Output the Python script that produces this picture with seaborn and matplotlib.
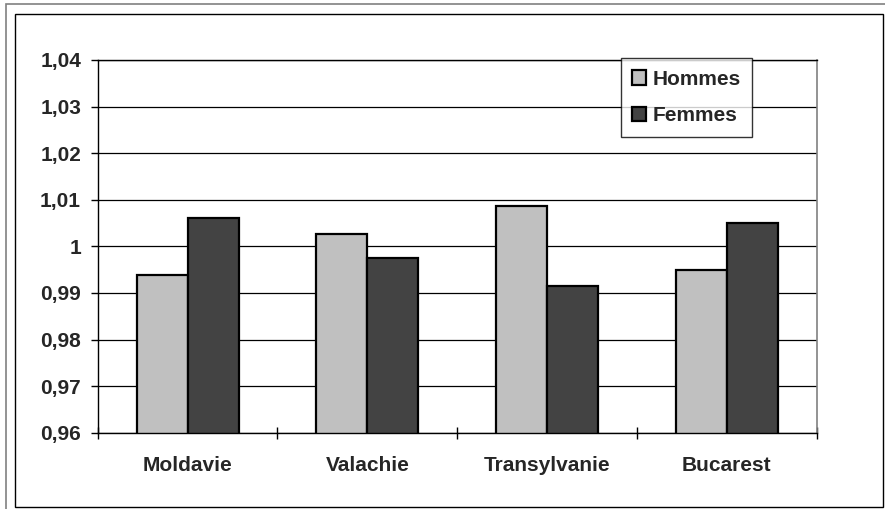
import pandas as pd
import matplotlib
matplotlib.use('Agg')
import matplotlib.pyplot as plt
from matplotlib.patches import Rectangle
import seaborn as sns

# Données
regions = ['Moldavie', 'Valachie', 'Transylvanie', 'Bucarest']
hommes = [0.9939, 1.0026, 1.0086, 0.9949]
femmes = [1.0060, 0.9974, 0.9915, 1.0051]
series = ['Hommes', 'Femmes']
couleurs = ['#C0C0C0', '#434343']
y_ticks = [0.96, 0.97, 0.98, 0.99, 1.00, 1.01, 1.02, 1.03, 1.04]
y_labels = ['0,96', '0,97', '0,98', '0,99', '1', '1,01', '1,02', '1,03', '1,04']

df = pd.DataFrame({
    'region': regions * 2,
    'sexe': [series[0]] * len(regions) + [series[1]] * len(regions),
    'valeur': hommes + femmes,
})

sns.set_theme(style='white')
plt.rcParams['font.family'] = ['Liberation Sans', 'DejaVu Sans']
plt.rcParams['font.weight'] = 'bold'

W, H = 885, 509
fs = 15
fig = plt.figure(figsize=(W / 100, H / 100), dpi=100)
fig.patch.set_facecolor('white')

# Zone de tracé (en pixels de l'image)
x0, x1, y0, y1 = 97.7, 816.7, 60, 432.7
ax = fig.add_axes([x0 / W, 1 - y1 / H, (x1 - x0) / W, (y1 - y0) / H])

# Grille horizontale derrière les barres
for t in y_ticks:
    ax.axhline(t, color='black', lw=0.9, zorder=0)

sns.barplot(data=df, x='region', y='valeur', hue='sexe', hue_order=series,
            palette=couleurs, width=0.567, edgecolor='black', linewidth=1.6,
            saturation=1, ax=ax, zorder=2)

ax.set_ylim(0.96, 1.04)
ax.set_xlim(-0.5, len(regions) - 0.5)
ax.set_yticks(y_ticks)
ax.set_yticklabels(y_labels, fontsize=fs, fontweight='bold')
ax.tick_params(axis='y', direction='out', length=5, width=1, color='black', pad=7, left=True)

# Étiquettes centrées, graduations aux limites des catégories
ax.set_xticks(range(len(regions)))
ax.set_xticklabels(regions, fontsize=fs, fontweight='bold')
ax.tick_params(axis='x', which='major', length=0, pad=17)
ax.set_xticks([i - 0.5 for i in range(len(regions) + 1)], minor=True)
ax.tick_params(axis='x', which='minor', direction='inout', length=9, width=1,
               color='black', bottom=True)
ax.set_xlabel('')
ax.set_ylabel('')

for s in ['left', 'bottom', 'top']:
    ax.spines[s].set_color('black')
    ax.spines[s].set_linewidth(1)
ax.spines['right'].set_color('#808080')
ax.spines['right'].set_linewidth(1.2)

# Légende
leg = ax.legend(loc='upper left', bbox_to_anchor=(620.7 / W, 1 - 58.3 / H),
                bbox_transform=fig.transFigure, borderaxespad=0,
                fontsize=fs, frameon=True, fancybox=False, edgecolor='black',
                handlelength=0.68, handleheight=0.68, handletextpad=0.3,
                labelspacing=0.85, borderpad=0.55)
leg.get_frame().set_linewidth(1)
for txt in leg.get_texts():
    txt.set_fontweight('bold')

# Cadres extérieurs
fig.add_artist(Rectangle((6 / W, -0.1), 1.1, 1 - 4 / H + 0.1, transform=fig.transFigure,
                         fill=False, edgecolor='#808080', lw=1.2))
fig.add_artist(Rectangle((15 / W, 1 - 507 / H), (883 - 15) / W, (507 - 14) / H,
                         transform=fig.transFigure, fill=False, edgecolor='black', lw=1))

fig.savefig('out.png', dpi=100)
